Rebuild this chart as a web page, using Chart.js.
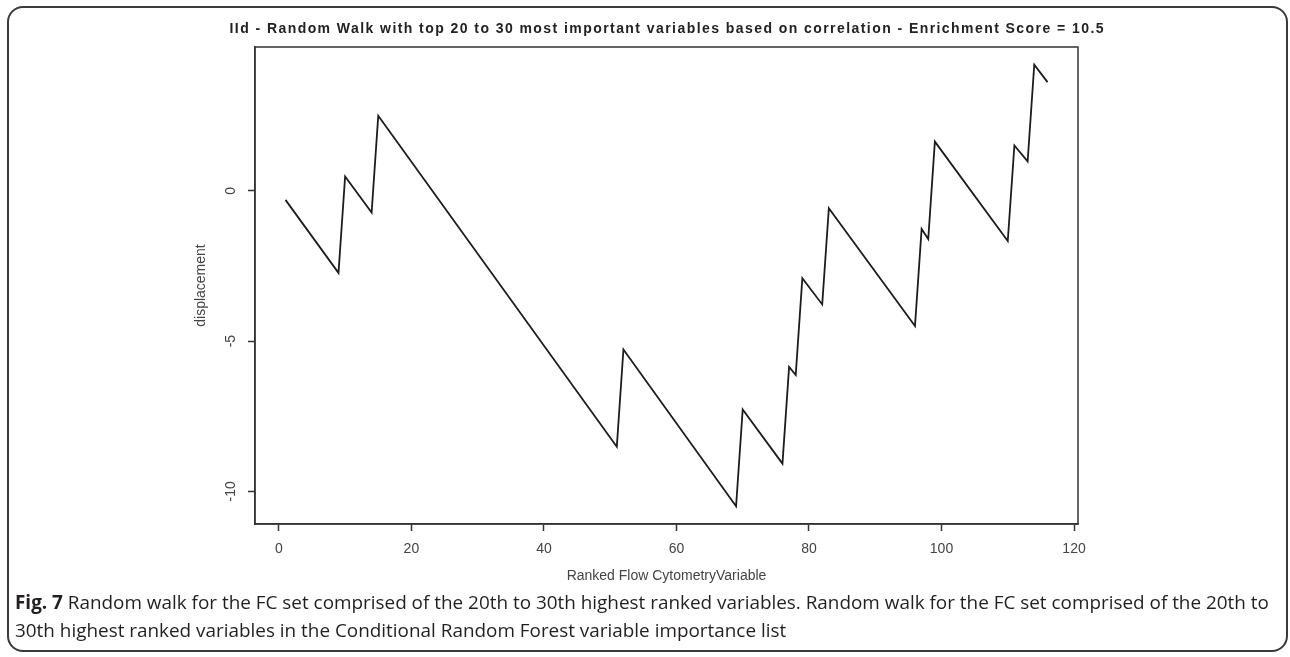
<!DOCTYPE html>
<html>
<head>
<meta charset="utf-8">
<script src="https://cdn.jsdelivr.net/npm/chart.js@4.4.1/dist/chart.umd.min.js"></script>
<style>
  html, body { margin: 0; padding: 0; background: #fff; }
  body { width: 1290px; height: 657px; position: relative; overflow: hidden; }
  #frame {
    position: absolute; left: 7px; top: 6px; width: 1277px; height: 642px;
    border: 2px solid #3a3a3a; border-radius: 16px;
  }
  #plot { position: absolute; left: 0; top: 0; width: 1290px; height: 657px; }
  #caption {
    position: absolute; left: 15px; top: 588px;
    font-family: "Open Sans", "Noto Sans", sans-serif; font-size: 18.9px; line-height: 28px;
    color: #231f20; white-space: nowrap;
  }
  #caption b { font-weight: 700; }
</style>
</head>
<body>
<div id="frame"></div>
<div id="plot"><canvas id="walk"></canvas></div>
<div id="caption"><b>Fig. 7</b> Random walk for the FC set comprised of the 20th to 30th highest ranked variables. Random walk for the FC set comprised of the 20th to<br>30th highest ranked variables in the Conditional Random Forest variable importance list</div>

<script>
// Vertices of the running-sum walk (rank position, displacement)
const rankPositions = [1, 9, 10, 14, 15, 51, 52, 69, 70, 76, 77, 78, 79, 82, 83, 96, 97, 98, 99, 110, 111, 113, 114, 116];
const displacement  = [-0.3, -2.73, 0.48, -0.72, 2.5, -8.52, -5.28, -10.5, -7.28, -9.08, -5.86, -6.13, -2.91, -3.78, -0.58, -4.5, -1.27, -1.6, 1.64, -1.67, 1.51, 0.98, 4.2, 3.62];

// Axis tick marks
const xTickValues = [0, 20, 40, 60, 80, 100, 120];
const yTickValues = [-10, -5, 0];

// Text
const chartTitle = 'IId - Random Walk with top 20 to 30 most important variables based on correlation - Enrichment Score = 10.5';
const xAxisTitle = 'Ranked Flow CytometryVariable';
const yAxisTitle = 'displacement';

const axisFont = { family: '"Liberation Sans", Arial, sans-serif', size: 14 };
const inkColor = '#333';
const labelColor = '#444';

// Closed frame around the plotting region
const plotBox = {
  id: 'plotBox',
  beforeDatasetsDraw(chart) {
    const { ctx, chartArea: a } = chart;
    ctx.save();
    ctx.strokeStyle = inkColor;
    ctx.lineWidth = 1.5;
    ctx.strokeRect(a.left, a.top, a.right - a.left, a.bottom - a.top);
    ctx.restore();
  }
};

// Spaced-out bold heading centred over the plotting region
const spacedTitle = {
  id: 'spacedTitle',
  afterDraw(chart, args, opts) {
    const { ctx, chartArea: a } = chart;
    const cx = (a.left + a.right) / 2;
    ctx.save();
    ctx.font = 'bold 14px "Liberation Sans", Arial, sans-serif';
    ctx.fillStyle = '#222';
    ctx.textBaseline = 'alphabetic';
    ctx.textAlign = 'left';
    const natural = ctx.measureText(opts.text).width;
    const left = cx - opts.width / 2;
    if ('letterSpacing' in ctx) {
      ctx.letterSpacing = ((opts.width - natural) / (opts.text.length - 1)) + 'px';
      ctx.fillText(opts.text, left, opts.baseline);
    } else {
      ctx.translate(left, opts.baseline);
      ctx.scale(opts.width / natural, 1);
      ctx.fillText(opts.text, 0, 0);
    }
    ctx.restore();
  }
};

new Chart(document.getElementById('walk'), {
  type: 'line',
  data: {
    datasets: [{
      data: rankPositions.map((x, i) => ({ x, y: displacement[i] })),
      borderColor: '#1c1c1c',
      borderWidth: 1.8,
      pointRadius: 0,
      tension: 0,
      fill: false
    }]
  },
  options: {
    responsive: true,
    maintainAspectRatio: false,
    animation: false,
    devicePixelRatio: 1,
    events: [],
    layout: { padding: { left: 0, top: 47, right: 212, bottom: 0 } },
    plugins: {
      legend: { display: false },
      tooltip: { enabled: false },
      title: { display: false },
      spacedTitle: { text: chartTitle, width: 874, baseline: 33 }
    },
    scales: {
      x: {
        type: 'linear',
        min: -3.6,
        max: 120.6,
        afterBuildTicks: s => { s.ticks = xTickValues.map(v => ({ value: v })); },
        afterFit: s => { s.height = 133; },
        grid: { drawOnChartArea: false, drawTicks: true, tickLength: 7, tickWidth: 1.5, tickColor: inkColor },
        border: { display: true, color: inkColor, width: 1.5 },
        ticks: { color: labelColor, font: axisFont, padding: 10, maxRotation: 0, autoSkip: false },
        title: { display: true, text: xAxisTitle, color: labelColor, font: axisFont, padding: { top: 0, bottom: 72 } }
      },
      y: {
        type: 'linear',
        min: -11.09,
        max: 4.79,
        afterBuildTicks: s => { s.ticks = yTickValues.map(v => ({ value: v })); },
        afterFit: s => { s.width = 255; },
        grid: { drawOnChartArea: false, drawTicks: true, tickLength: 7, tickWidth: 1.5, tickColor: inkColor },
        border: { display: true, color: inkColor, width: 1.5 },
        ticks: { color: labelColor, font: axisFont, padding: 7, minRotation: 90, maxRotation: 90, crossAlign: 'center', autoSkip: false },
        title: { display: true, text: yAxisTitle, color: labelColor, font: axisFont, padding: { top: 193, bottom: 0 } }
      }
    }
  },
  plugins: [plotBox, spacedTitle]
});
</script>
</body>
</html>
